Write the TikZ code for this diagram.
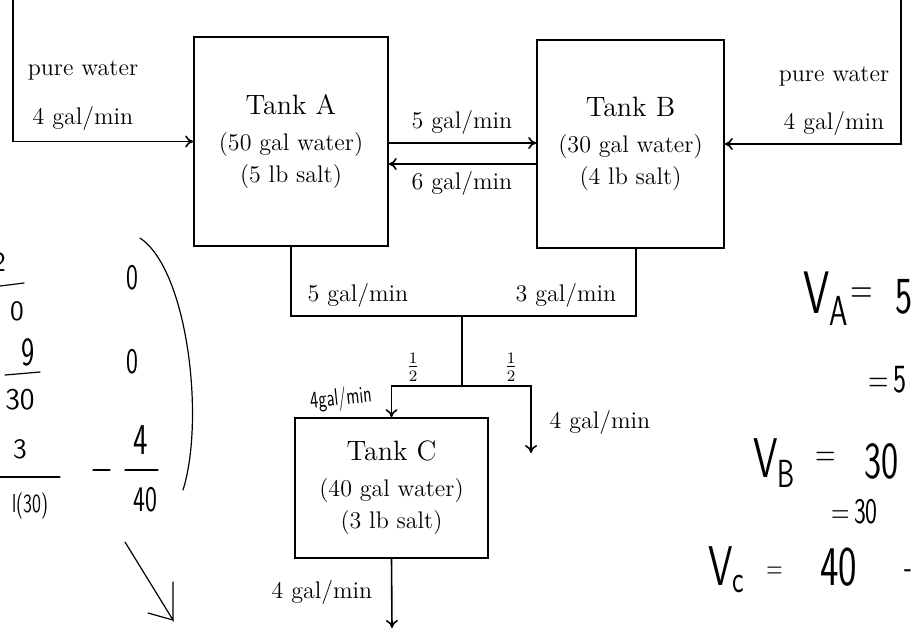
\documentclass[tikz,border=0pt]{standalone}
\usepackage{amsmath}
\usetikzlibrary{arrows.meta,positioning}
\tikzset{
    mytank/.style={draw=black,line width=0.8pt,align=center,inner sep=0pt,font=\fontsize{12}{16}\selectfont},
    mypipe/.style={line width=0.8pt,draw=black},
    myflow/.style={mypipe,-{To[length=4pt,width=6pt]}},
    mylabel/.style={font=\fontsize{12}{14}\selectfont,inner sep=0pt},
    myhand/.style={font=\fontsize{18}{20}\sffamily,inner sep=0pt},
    myink/.style={line width=0.6pt,draw=black,line cap=round}
}
\newcommand{\thin}[1]{\scalebox{0.7}[1]{#1}}

\begin{document}
\begin{tikzpicture}[x=0.5pt,y=-0.5pt]
  \useasboundingbox (0,0) rectangle (915,634);
  \clip (0,0) rectangle (915,634);
  % tanks
  \node[mytank,minimum width=97pt,minimum height=104.5pt] (tankA) at (291,141.5)
    {{\fontsize{14}{16}\selectfont Tank A}\\[2pt] (50 gal water)\\ (5 lb salt)};
  \node[mytank,minimum width=93.5pt,minimum height=104pt] (tankB) at (630.5,144)
    {{\fontsize{14}{16}\selectfont Tank B}\\[2pt] (30 gal water)\\ (4 lb salt)};
  \node[mytank,minimum width=96.5pt,minimum height=70pt] (tankC) at (391.5,488)
    {{\fontsize{14}{16}\selectfont Tank C}\\[2pt] (40 gal water)\\ (3 lb salt)};
  % pure water in
  \coordinate (inA) at (13,0);
  \coordinate (inB) at (901,0);
  \draw[myflow] (inA) |- (tankA.west);
  \draw[myflow] (inB) |- (tankB.east);
  % between A and B
  \coordinate (ab) at (0,143);
  \coordinate (ba) at (0,164);
  \draw[myflow] (tankA.east |- ab) -- (tankB.west |- ab);
  \draw[myflow] (tankB.west |- ba) -- (tankA.east |- ba);
  % outflow, joined and split
  \coordinate (outB) at (636,0);
  \coordinate (jn) at (462,316);
  \coordinate (sp) at (462,386);
  \coordinate (drain) at (531,453);
  \coordinate (outC) at (392,628);
  \draw[mypipe] (tankA.south) |- (jn) -| (tankB.south -| outB);
  \draw[mypipe] (jn) -- (sp);
  \draw[myflow] (sp) -| (tankC.north);
  \draw[myflow] (sp) -| (drain);
  \draw[myflow] (tankC.south) -- (outC);
  % rates
  \node[mylabel] (pwA) at (83,70) {pure water};
  \node[mylabel] (rA) at (83,118) {4 gal/min};
  \node[mylabel] (pwB) at (834,76) {pure water};
  \node[mylabel] (rB) at (834,123) {4 gal/min};
  \node[mylabel] (rAB) at (462,122) {5 gal/min};
  \node[mylabel] (rBA) at (462,183) {6 gal/min};
  \node[mylabel] (rAo) at (358,295) {5 gal/min};
  \node[mylabel] (rBo) at (566,295) {3 gal/min};
  \node[mylabel] (hL) at (413,367) {$\frac{1}{2}$};
  \node[mylabel] (hR) at (511,367) {$\frac{1}{2}$};
  \node[mylabel] (rD) at (600,422) {4 gal/min};
  \node[mylabel] (rCo) at (322,592) {4 gal/min};
  % handwritten notes
  \node[myhand,font=\fontsize{12}{13}\sffamily,rotate=6] (nC) at (341,399) {\thin{4gal/min}};
  \node[myhand,font=\fontsize{14}{16}\sffamily] (l1) at (-1,262) {2};
  \node[myhand,font=\fontsize{14}{16}\sffamily] (l2) at (17,311) {0};
  \node[myhand,font=\fontsize{20}{22}\sffamily] (l3) at (28,352) {\thin{9}};
  \node[myhand,font=\fontsize{15}{17}\sffamily] (l4) at (20,400) {30};
  \node[myhand,font=\fontsize{14}{16}\sffamily] (l5) at (20,449) {3};
  \node[myhand,font=\fontsize{13}{15}\sffamily] (l6) at (30,506) {\thin{l(30)}};
  \node[myhand] (m1) at (132,278) {\thin{0}};
  \node[myhand] (m2) at (132,362) {\thin{0}};
  \node[myhand,font=\fontsize{22}{24}\sffamily] (m3) at (141,440) {\thin{4}};
  \node[myhand] (m4) at (145,500) {\thin{40}};
  \draw[myink] (0,286) -- (24,283);
  \draw[myink] (5,375) -- (40,372);
  \draw[myink] (0,477) -- (60,477);
  \draw[myink] (93,470) -- (110,470);
  \draw[myink] (125,470) -- (158,470);
  \draw[myink] (140,238) .. controls (188,270) and (205,420) .. (183,490);
  \draw[myink] (125,542) -- (173,620) -- (173,582);
  \draw[myink] (148,613) -- (173,620);
  \node[myhand,anchor=base west,font=\fontsize{30}{32}\sffamily] (vA) at (803,313) {\thin{V\textsubscript{A}}};
  \node[myhand,anchor=base west,font=\fontsize{22}{24}\sffamily] (vA2) at (850,303) {\thin{=}};
  \node[myhand,anchor=base west,font=\fontsize{26}{28}\sffamily] (vA3) at (895,313) {\thin{5}};
  \node[myhand,anchor=base west,font=\fontsize{20}{22}\sffamily] (eA) at (868,392) {\thin{=\,5}};
  \node[myhand,anchor=base west,font=\fontsize{28}{30}\sffamily] (vB) at (753,477) {\thin{V\textsubscript{B}}};
  \node[myhand,anchor=base west,font=\fontsize{20}{22}\sffamily] (vB2) at (815,466) {\thin{=}};
  \node[myhand,anchor=base west,font=\fontsize{26}{28}\sffamily] (vB3) at (864,478) {\thin{30}};
  \node[myhand,anchor=base west,font=\fontsize{18}{20}\sffamily] (eB) at (831,523) {\thin{=\,30}};
  \node[myhand,anchor=base west,font=\fontsize{28}{30}\sffamily] (vC) at (708,585) {\thin{V\textsubscript{c}}};
  \node[myhand,anchor=base west,font=\fontsize{16}{18}\sffamily] (vC2) at (766,578) {\thin{=}};
  \node[myhand,anchor=base west,font=\fontsize{28}{30}\sffamily] (vC3) at (820,585) {\thin{40}};
  \node[myhand,anchor=base west,font=\fontsize{18}{20}\sffamily] (vC4) at (904,578) {\thin{-}};
\end{tikzpicture}
\end{document}
